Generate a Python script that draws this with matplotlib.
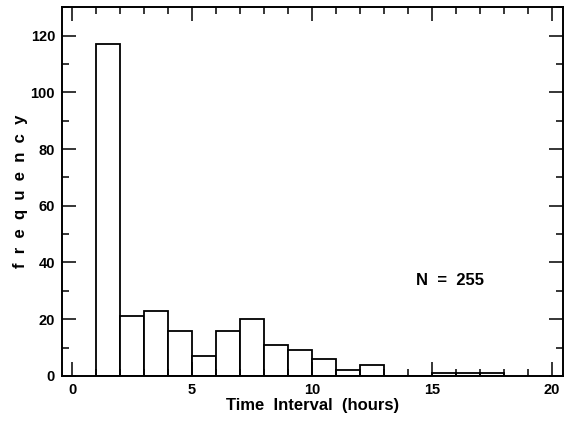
import matplotlib
matplotlib.use("Agg")
import matplotlib.pyplot as plt
from matplotlib.ticker import MultipleLocator

bin_left = [1, 2, 3, 4, 5, 6, 7, 8, 9, 10, 11, 12, 13, 14, 15, 16, 17]
counts = [117, 21, 23, 16, 7, 16, 20, 11, 9, 6, 2, 4, 0, 0, 1, 1, 1]
n_total = 255

plt.rcParams['font.family'] = ['Liberation Sans', 'DejaVu Sans']

fig = plt.figure(figsize=(5.64, 4.21), dpi=100)
ax = fig.add_axes([0.110, 0.107, 0.888, 0.876])

ax.bar(bin_left, counts, width=1.0, align='edge', facecolor='white',
       edgecolor='black', linewidth=1.3, zorder=1)

ax.set_xlim(-0.42, 20.45)
ax.set_ylim(0, 130)

ax.xaxis.set_major_locator(MultipleLocator(5))
ax.xaxis.set_minor_locator(MultipleLocator(1))
ax.yaxis.set_major_locator(MultipleLocator(20))
ax.yaxis.set_minor_locator(MultipleLocator(10))

ax.tick_params(which='both', direction='in', top=True, right=True,
               width=1.1, colors='black')
ax.tick_params(which='major', length=10, labelsize=10.5, pad=5)
ax.tick_params(which='minor', length=5)
for lab in ax.get_xticklabels() + ax.get_yticklabels():
    lab.set_fontweight('bold')

for s in ax.spines.values():
    s.set_linewidth(1.4)

ax.set_xlabel('Time  Interval  (hours)', fontsize=12, fontweight='bold', labelpad=1)
ax.set_ylabel('f  r  e  q  u  e  n  c  y', fontsize=12, fontweight='bold', labelpad=2)

ax.text(15.75, 33.8, 'N  =  %d' % n_total, fontsize=12, fontweight='bold',
        ha='center', va='center')

fig.savefig('out.png', dpi=100)
